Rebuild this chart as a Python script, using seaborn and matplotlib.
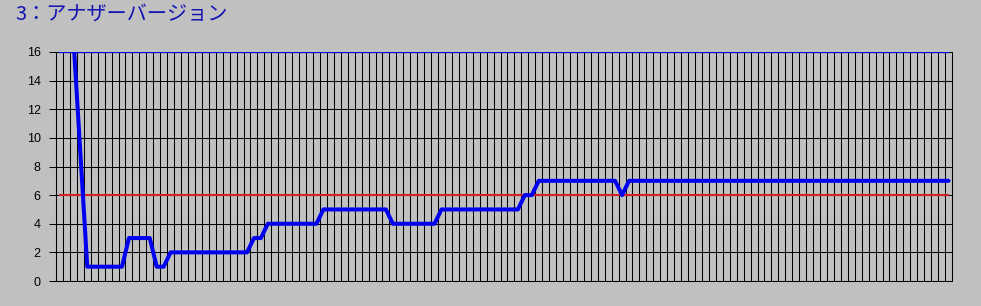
import numpy as np
import pandas as pd
import matplotlib
matplotlib.use("Agg")
import matplotlib.pyplot as plt
import seaborn as sns

# ---- data ----
title_text = "3：アナザーバージョン"
n_categories = 129
categories = list(range(n_categories))
series_values = (
    [np.nan, np.nan, 17, 9]
    + [1] * 6          # 4..9
    + [3] * 4          # 10..13
    + [1] * 2          # 14..15
    + [2] * 12         # 16..27
    + [3] * 2          # 28..29
    + [4] * 8          # 30..37
    + [5] * 10         # 38..47
    + [4] * 7          # 48..54
    + [5] * 12         # 55..66
    + [6] * 2          # 67..68
    + [7] * 12         # 69..80
    + [6]              # 81
    + [7] * 47         # 82..128
)
target_value = 6
max_value = 16
y_ticks = [0, 2, 4, 6, 8, 10, 12, 14, 16]

df = pd.DataFrame({"cat": categories, "value": series_values[:n_categories]})

# ---- style ----
sns.set_style("white")
bg = "#C0C0C0"
plt.rcParams["font.family"] = ["Liberation Sans", "DejaVu Sans"]

W, H = 981, 306
fig = plt.figure(figsize=(W / 100, H / 100), dpi=100, facecolor=bg)
ax = fig.add_axes([56 / W, 1 - 281 / H, (952 - 56) / W, (281 - 52) / H])
ax.set_facecolor(bg)

ax.set_xlim(-0.5, n_categories - 0.5)
ax.set_ylim(0, max_value)

# grid
ax.set_xticks(np.arange(-0.5, n_categories, 1))
ax.set_xticklabels([])
ax.tick_params(axis="x", length=0)
ax.set_yticks(y_ticks)
ax.set_yticklabels([str(v) for v in y_ticks], fontsize=9, color="black")
ax.tick_params(axis="y", length=5, width=0.75, color="black", pad=6, direction="out", left=True)
ax.grid(True, color="black", linewidth=0.75)
ax.set_axisbelow(True)

for side in ["left", "bottom", "right"]:
    ax.spines[side].set_visible(True)
    ax.spines[side].set_color("black")
    ax.spines[side].set_linewidth(0.75)
ax.spines["top"].set_visible(False)

# reference lines
ax.hlines(max_value, categories[0], categories[-1], color="#0000FF", linewidth=1.6, zorder=3)
ax.hlines(target_value, categories[0], categories[-1], color="#D42020", linewidth=1.5, zorder=3)

# data series
sns.lineplot(data=df, x="cat", y="value", ax=ax, color="#0000F0", linewidth=2.9,
             zorder=4, legend=False)
ax.set_xlabel("")
ax.set_ylabel("")

fig.text(15 / W, 1 - 14 / H, title_text, fontsize=14.5, color="#1414B4",
         family=["Noto Sans CJK JP", "DejaVu Sans"], va="center", ha="left")

fig.savefig("out.png", dpi=100, facecolor=bg)
